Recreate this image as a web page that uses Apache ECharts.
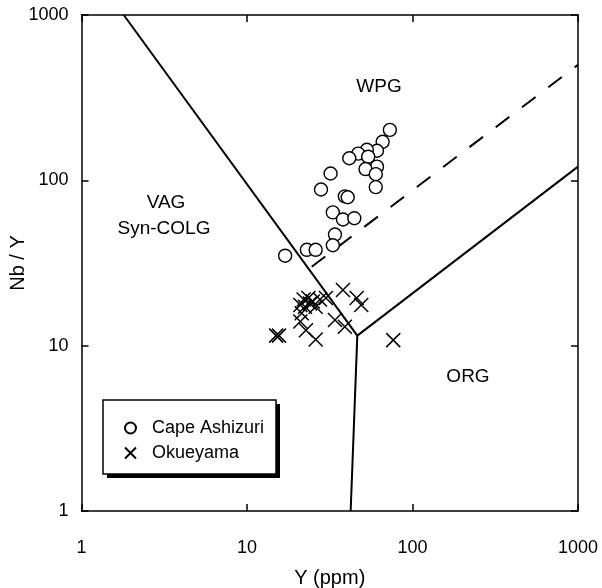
<!DOCTYPE html>
<html>
<head>
<meta charset="utf-8">
<script src="https://cdn.jsdelivr.net/npm/echarts@6/dist/echarts.min.js"></script>
<style>
  html, body { margin: 0; padding: 0; background: #fff; }
  #chart { width: 602px; height: 588px; }
</style>
</head>
<body>
<div id="chart"></div>
<script>
// Y (ppm) and Nb/Y for each sample group
var capeAshizuri = [
  [73, 202], [66, 171], [61, 151], [53, 153], [47, 145], [41.5, 136],
  [54, 139], [61, 121], [52, 117], [60, 109], [60, 91], [32, 110],
  [28, 88], [39, 80], [40.6, 79], [33, 64], [38, 58], [44.5, 59],
  [34, 47], [33, 40.5], [23, 38], [26, 38], [17, 35]
];
var okueyama = [
  [15, 11.5], [15.6, 11.5], [26, 10.9], [22.7, 12.4], [21, 14], [21.4, 15.7],
  [21, 17.6], [22, 19], [23.5, 19.4], [25, 18.5], [27.6, 19], [30, 19.4],
  [26, 17.2], [22.4, 17.2], [24, 18], [38, 21.7], [46, 19.4], [49, 17.6],
  [34, 14.3], [39, 13], [76.5, 10.8]
];

// Field boundaries (discrimination lines)
var vagWpgLine = [[1.8, 1000], [46.4, 11.5]];
var vagOrgLine = [[42.3, 1], [46.4, 11.5]];
var wpgOrgLine = [[46.4, 11.5], [1000, 121]];
var dashedLine = [[24.6, 30], [1000, 500]];

var axisTicks = [1, 10, 100, 1000];

var FONT = 'Liberation Sans, Arial, Helvetica, sans-serif';
var chart = echarts.init(document.getElementById('chart'), null, { renderer: 'canvas' });

function tickText(v) {
  var r = Math.round(v);
  return axisTicks.indexOf(r) >= 0 ? String(r) : '';
}

function logAxis(pos, showLabel, extra) {
  var a = {
    type: 'log',
    logBase: 10,
    min: 1,
    max: 1000,
    position: pos,
    axisLine: { show: true, onZero: false, lineStyle: { color: '#000', width: 1.5 } },
    axisTick: { show: true, inside: true, length: 7, lineStyle: { color: '#000', width: 1.5 } },
    minorTick: { show: false },
    splitLine: { show: false },
    axisLabel: { show: showLabel, color: '#000', fontFamily: FONT, fontSize: 18, formatter: tickText }
  };
  for (var k in extra) a[k] = extra[k];
  return a;
}

function boundary(data, dashed) {
  return {
    type: 'line',
    data: data,
    symbol: 'none',
    silent: true,
    z: 1,
    lineStyle: { color: '#000', width: 2, type: dashed ? [17, 16] : 'solid' }
  };
}

var crossPath = 'path://M0,0L10,10M0,10L10,0';

chart.setOption({
  animation: false,
  backgroundColor: '#fff',
  grid: { left: 81.5, right: 24, top: 15, bottom: 77, containLabel: false, outerBoundsMode: 'none' },
  xAxis: [
    logAxis('bottom', true, {
      name: 'Y (ppm)', nameLocation: 'middle', nameGap: 57, nameMoveOverlap: false,
      nameTextStyle: { color: '#000', fontFamily: FONT, fontSize: 20 },
      axisLabel: { show: true, color: '#000', fontFamily: FONT, fontSize: 18, margin: 28, formatter: tickText }
    }),
    logAxis('top', false, {})
  ],
  yAxis: [
    logAxis('left', true, {
      name: 'Nb / Y', nameLocation: 'middle', nameGap: 53, nameMoveOverlap: false,
      nameTextStyle: { color: '#000', fontFamily: FONT, fontSize: 20 },
      axisLabel: { show: true, color: '#000', fontFamily: FONT, fontSize: 18, margin: 13, padding: [6, 0, 0, 0], formatter: tickText }
    }),
    logAxis('right', false, {})
  ],
  legend: {
    orient: 'vertical',
    left: 119,
    top: 414,
    itemWidth: 11,
    itemHeight: 11,
    itemGap: 7,
    data: ['Cape Ashizuri', 'Okueyama'],
    textStyle: { color: '#000', fontFamily: FONT, fontSize: 18, padding: [0, 0, 0, 11] },
    z: 20
  },
  graphic: [
    { type: 'rect', shape: { x: 107, y: 404, width: 173, height: 74 }, style: { fill: '#000' }, z: 10 },
    { type: 'rect', shape: { x: 103, y: 400, width: 173, height: 74 }, style: { fill: '#fff', stroke: '#000', lineWidth: 1.5 }, z: 11 },
    { type: 'text', x: 379, y: 87, style: { text: 'WPG', fill: '#000', font: '19px ' + FONT, textAlign: 'center', textVerticalAlign: 'middle' }, z: 5 },
    { type: 'text', x: 166, y: 203, style: { text: 'VAG', fill: '#000', font: '19px ' + FONT, textAlign: 'center', textVerticalAlign: 'middle' }, z: 5 },
    { type: 'text', x: 164, y: 229, style: { text: 'Syn-COLG', fill: '#000', font: '19px ' + FONT, textAlign: 'center', textVerticalAlign: 'middle' }, z: 5 },
    { type: 'text', x: 468, y: 377, style: { text: 'ORG', fill: '#000', font: '19px ' + FONT, textAlign: 'center', textVerticalAlign: 'middle' }, z: 5 }
  ],
  series: [
    boundary(vagWpgLine, false),
    boundary(vagOrgLine, false),
    boundary(wpgOrgLine, false),
    boundary(dashedLine, true),
    {
      name: 'Cape Ashizuri',
      type: 'scatter',
      data: capeAshizuri,
      symbol: 'circle',
      symbolSize: 13,
      z: 3,
      itemStyle: { color: '#fff', borderColor: '#000', borderWidth: 1.4, opacity: 1 }
    },
    {
      name: 'Okueyama',
      type: 'scatter',
      data: okueyama,
      symbol: crossPath,
      symbolSize: 14,
      z: 3,
      itemStyle: { color: 'rgba(0,0,0,0)', borderColor: '#000', borderWidth: 1.5, opacity: 1 }
    }
  ]
});
</script>
</body>
</html>
